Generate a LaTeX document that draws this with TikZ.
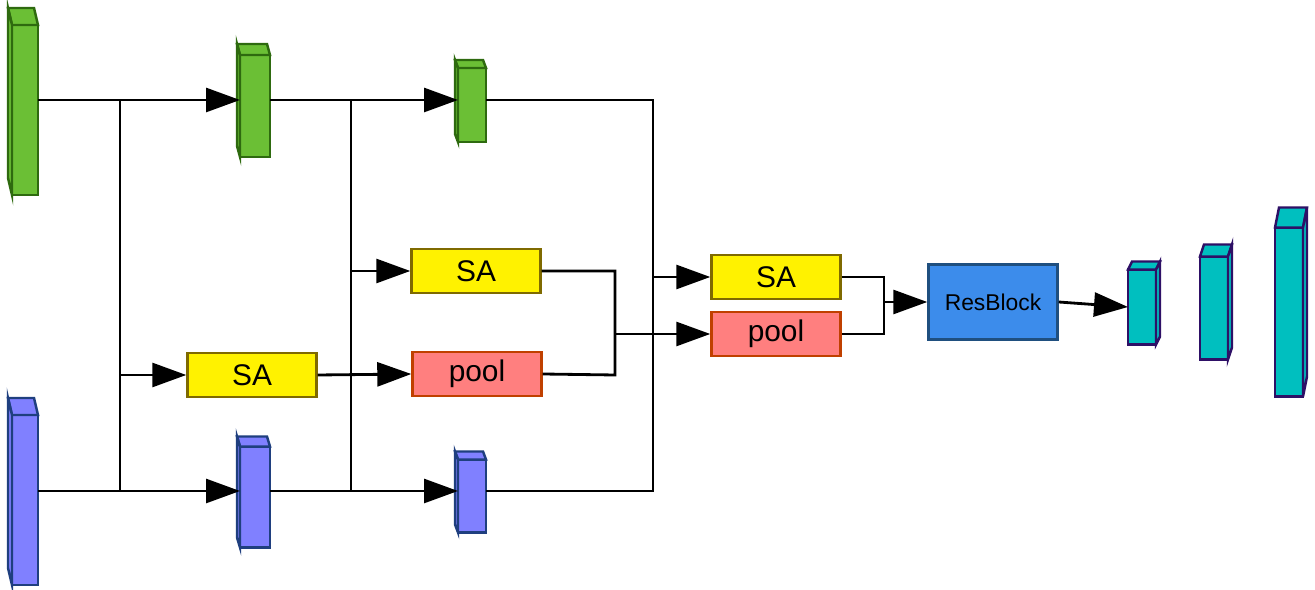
\documentclass[tikz,border=0pt]{standalone}
\usepackage{fontspec}
\setmainfont{Liberation Sans}
\usetikzlibrary{arrows.meta}
\definecolor{gfill}{HTML}{6BBF35}\definecolor{gline}{HTML}{2E6A0F}
\definecolor{bfill}{HTML}{8080FF}\definecolor{bline}{HTML}{1F3F7F}
\definecolor{cfill}{HTML}{00BFBF}\definecolor{cline}{HTML}{2E1066}
\definecolor{yline}{HTML}{7F6A00}
\definecolor{pfill}{HTML}{FF7F7F}\definecolor{pline}{HTML}{C04000}
\definecolor{rfill}{HTML}{3C8CEB}\definecolor{rline}{HTML}{1F4F7F}
\tikzset{
  feat/.style={draw,line width=1.4pt,inner sep=0pt,outer sep=0pt},
  green/.style={feat,fill=gfill,draw=gline},
  blue/.style={feat,fill=bfill,draw=bline},
  cyan/.style={feat,fill=cfill,draw=cline},
  op/.style={draw,line width=1.4pt,minimum width=2.58cm,minimum height=0.88cm,inner sep=0pt,font=\fontsize{17}{17}\selectfont},
  sa/.style={op,fill=yellow,draw=yline},
  pool/.style={op,fill=pfill,draw=pline},
  res/.style={draw,line width=1.4pt,fill=rfill,draw=rline,minimum width=2.58cm,minimum height=1.5cm,inner sep=0pt,font=\fontsize{13}{13}\selectfont},
  link/.style={line width=1.6pt},
  arr/.style={link,-{Triangle[length=0.68cm,width=0.48cm]}}
}
% \cube{name}{cx}{cy}{w}{h}{dx}{dy}{style}
\newcommand{\cube}[8]{%
  \node[#8,minimum width=#4*0.02cm,minimum height=#5*0.02cm] (#1) at (#2,#3) {};
  \draw[#8] (#1.north west) -- ++(#6,#7) -- ++(#4,0) -- (#1.north east) -- cycle;
  \ifdim #6pt<0pt
    \draw[#8] (#1.north west) -- ++(#6,#7) -- ([shift={(#6,#7)}]#1.south west) -- (#1.south west) -- cycle;
  \else
    \draw[#8] (#1.north east) -- ++(#6,#7) -- ([shift={(#6,#7)}]#1.south east) -- (#1.south east) -- cycle;
  \fi}
\begin{document}
\begin{tikzpicture}[x=0.02cm,y=-0.02cm]
\useasboundingbox (0,0) rectangle (1315,590);
% feature maps
\cube{g1}{25}{110}{26}{170}{-4}{-17}{green}
\cube{g2}{255}{106}{30}{102}{-3}{-11}{green}
\cube{g3}{472}{105}{28}{74}{-3}{-8}{green}
\cube{b1}{25}{500}{26}{170}{-4}{-17}{blue}
\cube{b2}{255}{497}{30}{101}{-3}{-10}{blue}
\cube{b3}{472}{496}{28}{73}{-3}{-8}{blue}
\cube{c1}{1142}{307}{28}{75}{4}{-8}{cyan}
\cube{c2}{1214}{308}{28}{103}{4}{-12}{cyan}
\cube{c3}{1289}{312}{28}{169}{4}{-20}{cyan}
% operations
\node[sa] (sa1) at (252,375) {SA};
\node[sa] (sa2) at (476,271) {SA};
\node[pool] (pool1) at (477,374) {pool};
\node[sa] (sa3) at (776,277) {SA};
\node[pool] (pool2) at (776,334) {pool};
\node[res] (res) at (993,302) {ResBlock};
% junctions
\coordinate (j1t) at (120,100); \coordinate (j1b) at (120,491);
\coordinate (j2t) at (351,100); \coordinate (j2b) at (351,491);
\coordinate (j3t) at (653,100); \coordinate (j3b) at (653,491);
\coordinate (m1) at (615,271); \coordinate (m2) at (615,375);
\coordinate (m3) at (884,277); \coordinate (m4) at (884,334);
% connections
\draw[arr] (g1.east |- j1t) -- (g2.west |- j1t);
\draw[arr] (b1.east |- j1b) -- (b2.west |- j1b);
\draw[link] (j1t) -- (j1b);
\draw[arr] (120,375) -- (sa1.west);
\draw[arr] (g2.east |- j2t) -- (g3.west |- j2t);
\draw[arr] (b2.east |- j2b) -- (b3.west |- j2b);
\draw[link] (j2t) -- (j2b);
\draw[arr] (351,271) -- (sa2.west);
\draw[arr] (sa1.east) -- (pool1.west);
\draw[link] (g3.east |- j3t) -- (j3t) -- (j3b) -- (b3.east |- j3b);
\draw[arr] (653,277) -- (sa3.west);
\draw[link] (sa2.east) -- (m1) -- (m2) -- (pool1.east);
\draw[arr] (615,334) -- (pool2.west);
\draw[link] (sa3.east) -- (m3) -- (m4) -- (pool2.east);
\draw[arr] (884,302) -- (res.west);
\draw[arr] (res.east) -- (c1.west);
\end{tikzpicture}
\end{document}
